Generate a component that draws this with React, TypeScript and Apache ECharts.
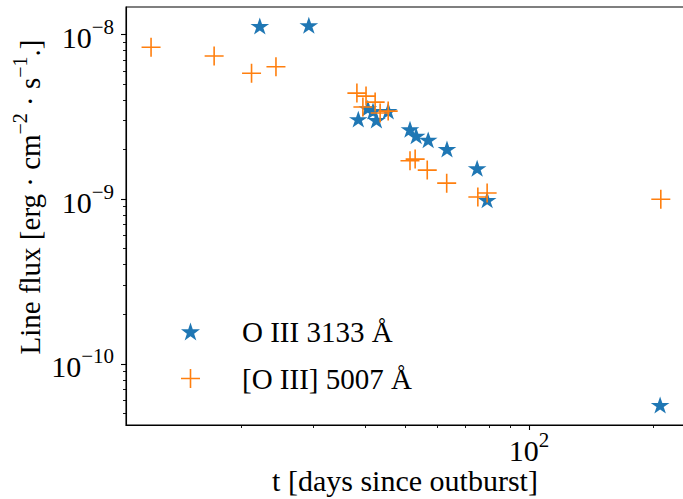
import React, { useEffect, useRef } from 'react';
import * as echarts from 'echarts';

// ---- data ----
const starName = 'O III 3133 Å';
const starT = [22.2, 29.2, 38.5, 40.6, 41.8, 42.6, 45.5, 51.4, 53.2, 56.9, 63.2, 74.8, 79.1, 208];
const starFlux = [1.11e-8, 1.12e-8, 3.02e-9, 3.52e-9, 3.38e-9, 2.98e-9, 3.38e-9, 2.62e-9, 2.39e-9, 2.26e-9, 1.99e-9, 1.52e-9, 9.77e-10, 5.56e-11];

const plusName = '[O III] 5007 Å';
const plusT = [12.09, 17.2, 21.2, 24.3, 38.2, 40.2, 42.3, 39.5, 43.5, 45.5, 51.4, 52.9, 56.6, 63.1, 75.1, 79.1, 208.8];
const plusFlux = [8.34e-9, 7.38e-9, 5.8e-9, 6.36e-9, 4.4e-9, 4.22e-9, 3.88e-9, 3.62e-9, 3.33e-9, 3.42e-9, 1.71e-9, 1.75e-9, 1.5e-9, 1.25e-9, 1.03e-9, 1.09e-9, 9.98e-10];

// ---- axes ----
const xMin = 10.51;
const xMax = 237.7;
const yMin = 4.26e-11;
const yMax = 1.465e-8;
const xMajorTicks = [100];
const xMinorTicks = [20, 30, 40, 50, 60, 70, 80, 90, 200];
const yMajorTicks = [1e-10, 1e-9, 1e-8];
const yMinorTicks = [5e-11, 6e-11, 7e-11, 8e-11, 9e-11, 2e-10, 3e-10, 4e-10, 5e-10, 6e-10, 7e-10, 8e-10, 9e-10, 2e-9, 3e-9, 4e-9, 5e-9, 6e-9, 7e-9, 8e-9, 9e-9];

const xTitle = 't [days since outburst]';

const FF = '"Liberation Serif", "DejaVu Serif", serif';
const BLUE = '#1f77b4';
const ORANGE = '#ff7f0e';

const STAR = 'path://M0,-10L2.245,-3.09L9.511,-3.09L3.633,1.18L5.878,8.09L0,3.82L-5.878,8.09L-3.633,1.18L-9.511,-3.09L-2.245,-3.09Z';
const PLUS = 'path://M-0.8,-9.5H0.8V-0.8H9.5V0.8H0.8V9.5H-0.8V0.8H-9.5V-0.8H-0.8Z';

const tickRich = {
  b: { fontSize: 30, fontFamily: FF, lineHeight: 36, verticalAlign: 'bottom', color: '#000' },
  s: { fontSize: 21, fontFamily: FF, lineHeight: 12, verticalAlign: 'top', color: '#000' },
};
const titleRich = {
  b: { fontSize: 29, fontFamily: FF, lineHeight: 34, verticalAlign: 'bottom', color: '#000' },
  s: { fontSize: 20, fontFamily: FF, lineHeight: 12, verticalAlign: 'top', color: '#000' },
};

const powLabel = (v: number) => {
  const e = Math.round(Math.log10(v));
  return `{b|10}{s|${e < 0 ? '−' : ''}${Math.abs(e)}}`;
};

export default function App() {
  const ref = useRef<HTMLDivElement>(null);
  useEffect(() => {
    const chart = echarts.init(ref.current!, null, { renderer: 'svg' });
    const axisLineStyle = { color: '#000', width: 1.1 };
    chart.setOption({
      animation: false,
      backgroundColor: '#fff',
      grid: {
        left: 126, top: 7, right: -1, bottom: 74,
        show: true, borderColor: '#000', borderWidth: 1.1, backgroundColor: 'transparent',
        containLabel: false, outerBoundsMode: 'none',
      },
      xAxis: [
        {
          type: 'log', min: xMin, max: xMax, position: 'bottom',
          axisLine: { show: true, lineStyle: axisLineStyle },
          axisTick: { show: true, length: 5, customValues: xMajorTicks, lineStyle: axisLineStyle },
          axisLabel: { show: true, customValues: xMajorTicks, formatter: powLabel, rich: tickRich, margin: 4 },
          splitLine: { show: false }, minorTick: { show: false },
        },
        {
          type: 'log', min: xMin, max: xMax, position: 'bottom',
          axisLine: { show: false },
          axisTick: { show: true, length: 3, customValues: xMinorTicks, lineStyle: { color: '#000', width: 0.9 } },
          axisLabel: { show: false },
          splitLine: { show: false },
        },
      ],
      yAxis: [
        {
          type: 'log', min: yMin, max: yMax, position: 'left',
          axisLine: { show: true, lineStyle: axisLineStyle },
          axisTick: { show: true, length: 5, customValues: yMajorTicks, lineStyle: axisLineStyle },
          axisLabel: { show: true, customValues: yMajorTicks, formatter: powLabel, rich: tickRich, margin: 12 },
          splitLine: { show: false },
        },
        {
          type: 'log', min: yMin, max: yMax, position: 'left',
          axisLine: { show: false },
          axisTick: { show: true, length: 3, customValues: yMinorTicks, lineStyle: { color: '#000', width: 0.9 } },
          axisLabel: { show: false },
          splitLine: { show: false },
        },
      ],
      legend: {
        orient: 'vertical', left: 176, top: 312, itemGap: 18,
        itemWidth: 19, itemHeight: 19,
        data: [starName, plusName],
        formatter: (n: string) => `{a|${n}}`,
        textStyle: {
          rich: { a: { fontSize: 29, fontFamily: FF, color: '#000', padding: [0, 0, 0, 37], lineHeight: 34 } },
        },
        selectedMode: false,
      },
      graphic: [
        {
          type: 'text', x: 27, y: 197, rotation: Math.PI / 2,
          style: {
            text: '{b|Line flux [erg · cm}{s|−2}{b| · s}{s|−1}{b|.]}',
            rich: titleRich, align: 'center', verticalAlign: 'middle', fill: '#000',
          },
        },
        {
          type: 'text', x: 405, y: 480,
          style: { text: xTitle, font: `30px ${FF}`, align: 'center', verticalAlign: 'middle', fill: '#000' },
        },
      ],
      series: [
        {
          type: 'scatter', name: starName, xAxisIndex: 0, yAxisIndex: 0,
          data: starT.map((t, i) => [t, starFlux[i]]),
          symbol: STAR, symbolSize: [18.7, 17.8], symbolKeepAspect: true, symbolOffset: [0, -0.9],
          itemStyle: { color: BLUE, opacity: 1 }, silent: true, emphasis: { disabled: true },
        },
        {
          type: 'scatter', name: plusName, xAxisIndex: 0, yAxisIndex: 0,
          data: plusT.map((t, i) => [t, plusFlux[i]]),
          symbol: PLUS, symbolSize: 19,
          itemStyle: { color: ORANGE, opacity: 1 }, silent: true, emphasis: { disabled: true },
        },
      ],
    });
    return () => chart.dispose();
  }, []);
  return (
    <div
      ref={ref}
      style={{ position: 'absolute', left: 0, top: 0, width: 683, height: 499, background: '#fff' }}
    />
  );
}
